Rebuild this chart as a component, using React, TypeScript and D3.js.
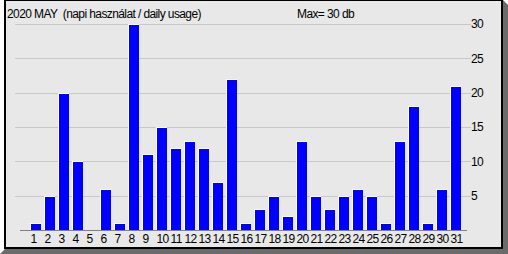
import React from "react";
import * as d3 from "d3";

const days: string[] = Array.from({ length: 31 }, (_, i) => String(i + 1));
const usage: number[] = [1, 5, 20, 10, 0, 6, 1, 30, 11, 15, 12, 13, 12, 7, 22, 1, 3, 5, 2, 13, 5, 3, 5, 6, 5, 1, 13, 18, 1, 6, 21];
const yTicks: number[] = [5, 10, 15, 20, 25, 30];
const title = "2020 MAY  (napi használat / daily usage)";
const maxLabel = "Max= 30 db";

const W = 508;
const H = 254;
const FONT = "'Liberation Sans', Arial, sans-serif";
const LS = -0.6;

export default function App() {
  const x = d3.scaleBand<string>().domain(days).range([30, 464]).paddingInner(0).paddingOuter(0);
  const y = d3.scaleLinear().domain([0, 30]).range([230, 24]);
  const barW = 11;

  return (
    <svg width={W} height={H} style={{ position: "absolute", left: 0, top: 0 }} xmlns="http://www.w3.org/2000/svg">
      <rect x={0} y={0} width={W} height={H} fill="#ffffff" />
      <polygon points="503,0 508,5 508,254 0,254 5,249" fill="#6b6b6b" />
      <rect x={5} y={0} width={497} height={248} fill="#e8e8e8" stroke="#000" strokeWidth={2} />
      {yTicks.map((t) => (
        <g key={t}>
          <line x1={15} x2={471} y1={Math.round(y(t)) + 0.5} y2={Math.round(y(t)) + 0.5} stroke="#c8c8c8" strokeWidth={1} />
          <text x={471} y={y(t)} dy="0.35em" fontFamily={FONT} fontSize={12} letterSpacing={LS} fill="#000">
            {t}
          </text>
        </g>
      ))}
      {usage.map((v, i) => {
        const bx = x(days[i])!;
        if (v <= 0) return null;
        const top = Math.round(y(v));
        return (
          <g key={i}>
            <rect x={bx} y={top} width={barW} height={230 - top} fill="#ffffff" />
            <rect x={bx + 1} y={top + 1} width={barW - 1} height={230 - top - 1} fill="#0000ff" />
          </g>
        );
      })}
      <line x1={20} x2={467} y1={230.5} y2={230.5} stroke="#808080" strokeWidth={1} />
      {days.map((d) => (
        <text key={d} x={x(d)! + 0.5} y={243} fontFamily={FONT} fontSize={12} letterSpacing={LS} fill="#000">
          {d}
        </text>
      ))}
      <text x={7} y={18} fontFamily={FONT} fontSize={12} letterSpacing={LS} fill="#000">
        {title.replace("  ", "\u00a0 ")}
      </text>
      <text x={297} y={18} fontFamily={FONT} fontSize={12} letterSpacing={LS} fill="#000">
        {maxLabel}
      </text>
    </svg>
  );
}
